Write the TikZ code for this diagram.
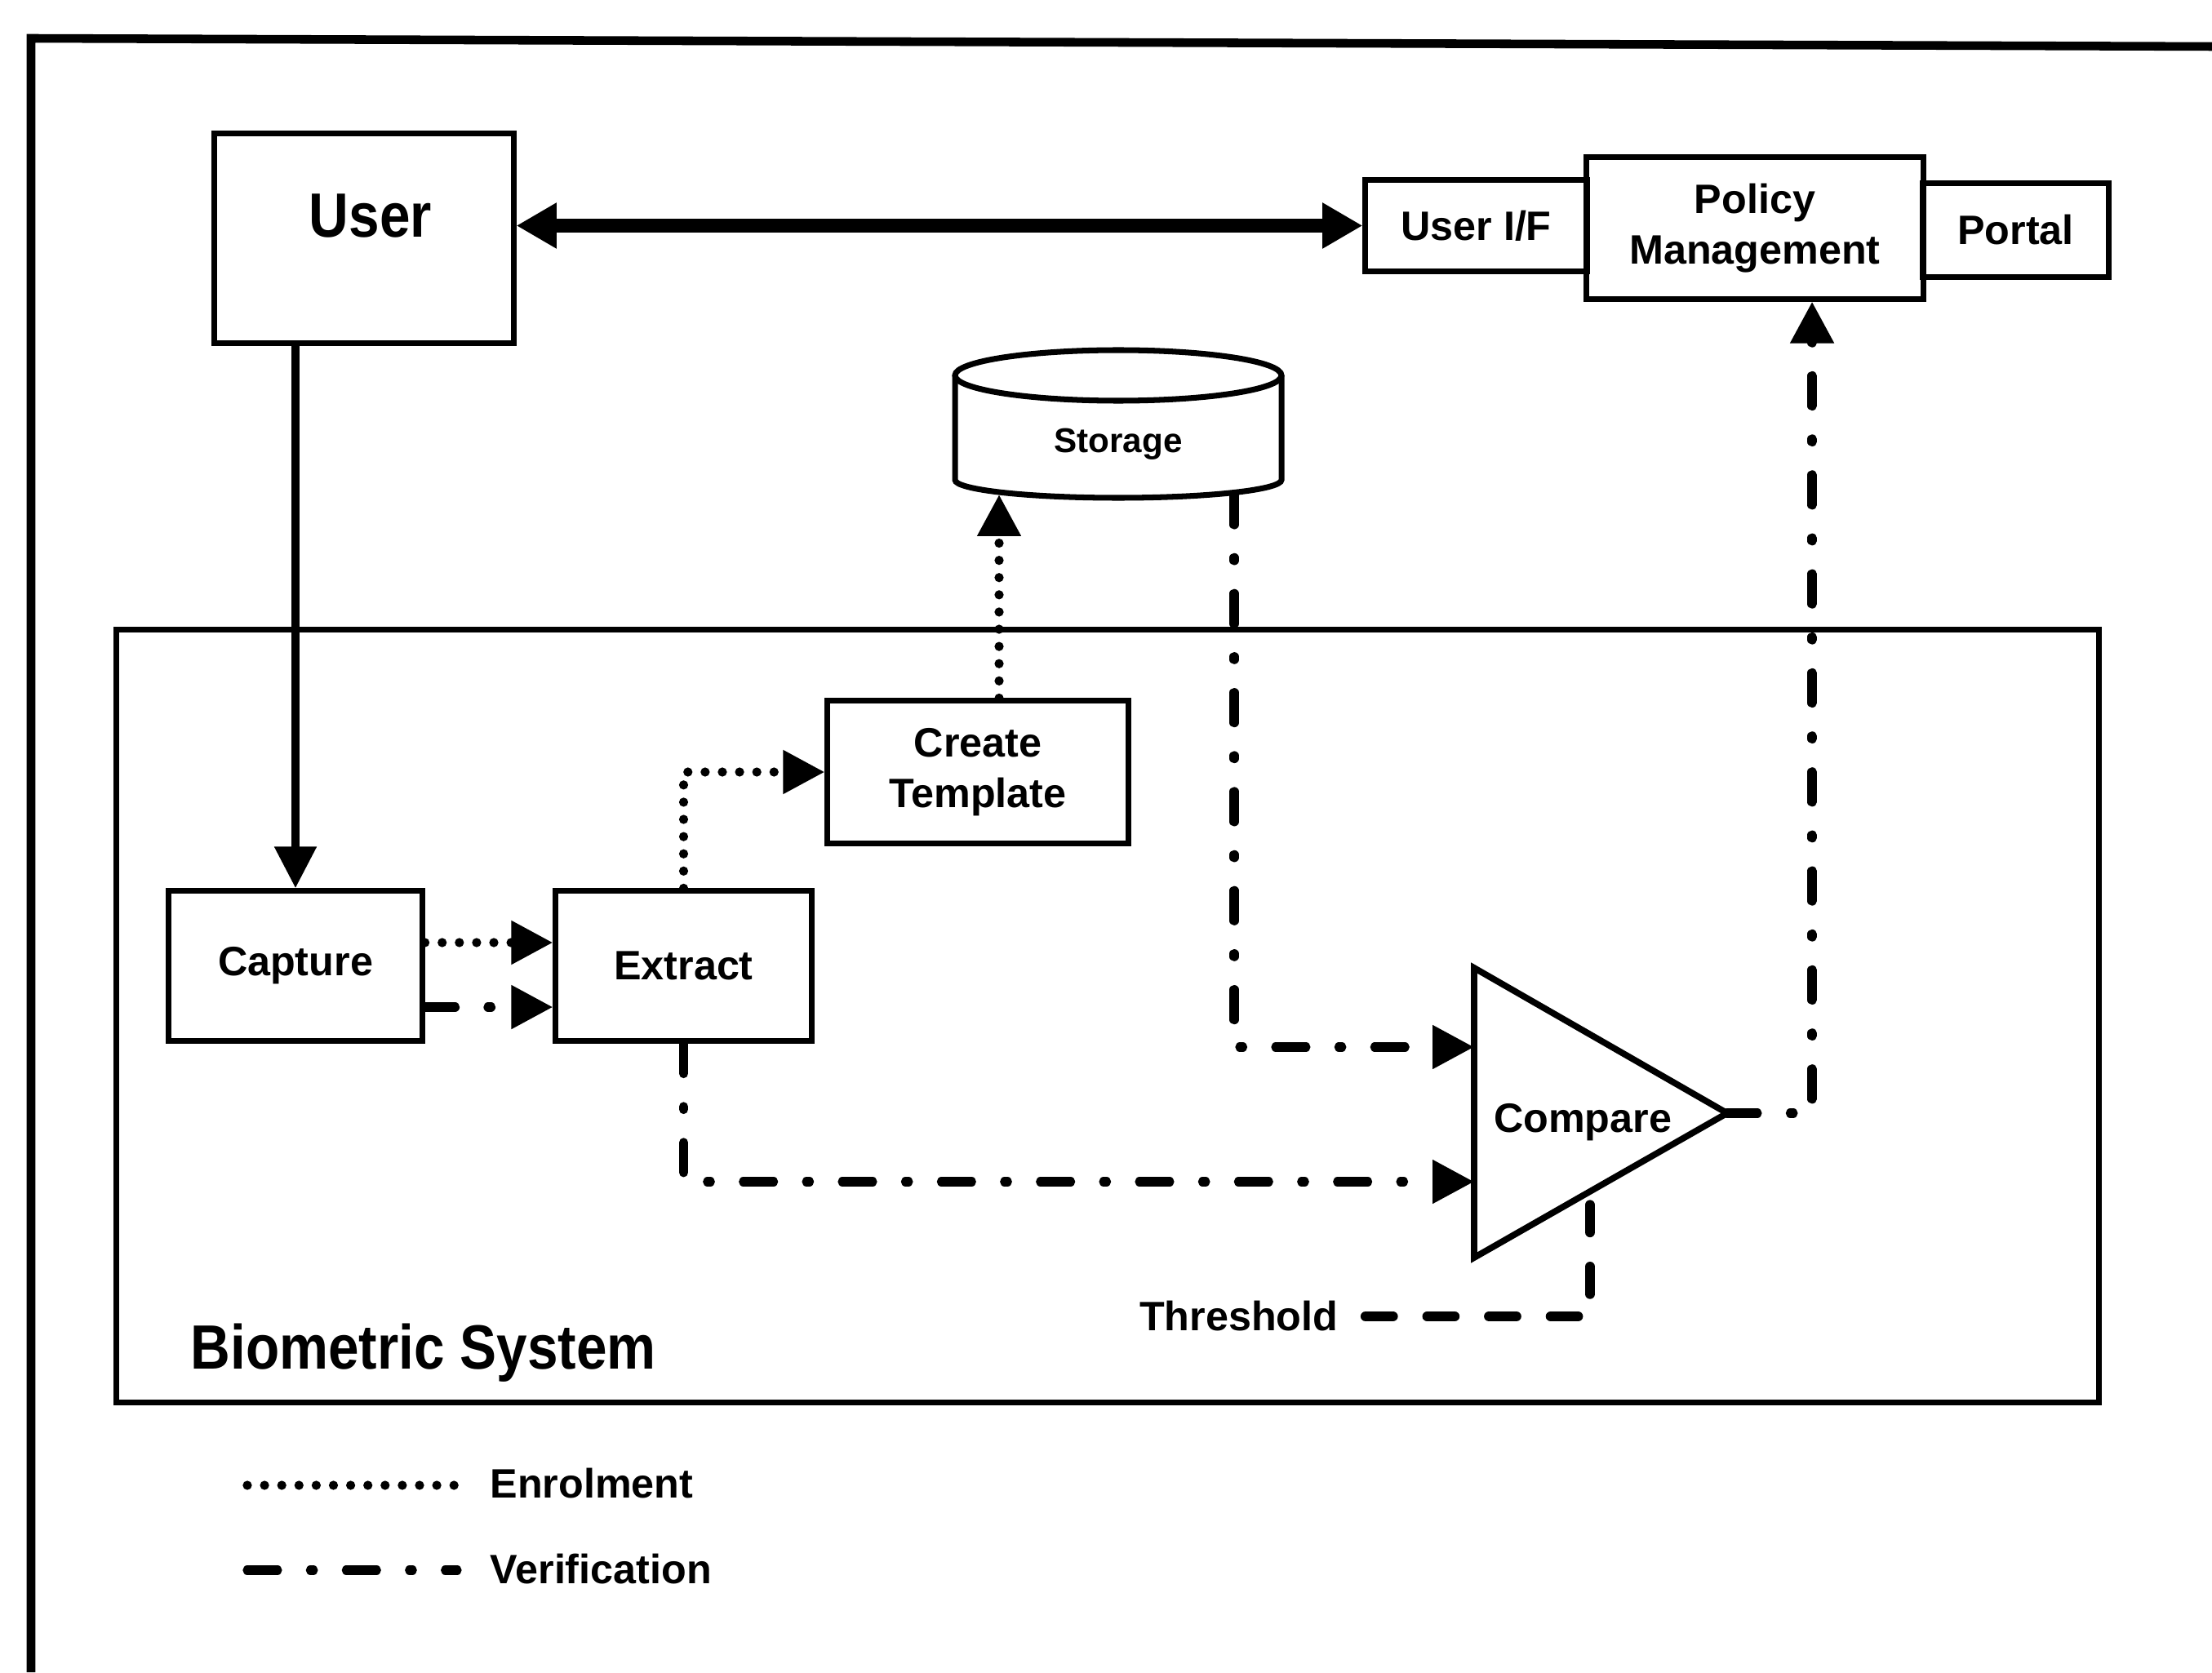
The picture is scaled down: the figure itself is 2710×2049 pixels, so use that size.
\documentclass[tikz,border=0pt]{standalone}
\usepackage{fontspec}
\setmainfont{Liberation Sans}
\newfontfamily\condfont[FakeStretch=0.88]{Liberation Sans}
\usetikzlibrary{arrows.meta,calc}
\begin{document}
\begin{tikzpicture}[x=0.01cm,y=-0.01cm,
  txt/.style={inner sep=0pt, font=\bfseries\fontsize{14.3pt}{17.5pt}\selectfont},
  bigtxt/.style={inner sep=0pt, font=\condfont\bfseries\fontsize{21.8pt}{26pt}\selectfont},
  box/.style={draw, line width=2pt, align=center, txt},
  enrol/.style={line width=3.2pt, dash pattern=on 0pt off 6pt, line cap=round},
  verif/.style={line width=3.2pt, dash pattern=on 10.5pt off 11.5pt on 1pt off 11.5pt, line cap=round},
  thresh/.style={line width=3.5pt, dash pattern=on 9.5pt off 12pt, line cap=round},
  tip/.style={-{Triangle[length=14.5pt,width=14.5pt]}},
]
\useasboundingbox (0,0) rectangle (2710,2049);
% outer frame (cut by the page at right and bottom)
\draw[line width=3pt] (38,2049) -- (38,47) -- (2710,57);

% top row
\node[box, minimum width=3.66cm, minimum height=2.56cm] (user) at (446,292) {};
\node[bigtxt] (usertext) at (454,265) {User};
\node[box, minimum width=2.71cm, minimum height=1.11cm] (useri) at (1808.5,276.5) {User I/F};
\node[box, minimum width=2.27cm, minimum height=1.14cm] (portal) at (2469.5,282) {Portal};
\node[box, minimum width=4.12cm, minimum height=1.73cm] (policy) at (2150,279.5) {Policy\\Management};

% biometric system frame
\node[draw, line width=2pt, inner sep=0pt, minimum width=24.28cm, minimum height=9.46cm] (bio) at (1357,1245) {};
\node[bigtxt, anchor=base west] (biolabel) at (233,1677) {Biometric System};

% storage cylinder
\draw[line width=2pt] (1170,460) -- (1170,588) arc[start angle=180, end angle=0, x radius=200, y radius=22] -- (1570,460);
\draw[line width=2pt] (1370,460) ellipse [x radius=200, y radius=31];
\node[inner sep=0pt, font=\bfseries\fontsize{12pt}{14pt}\selectfont] (storage) at (1370,544) {Storage};
\coordinate (stA) at (1224,606);
\coordinate (stB) at (1512,606);

% boxes inside
\node[box, minimum width=3.68cm, minimum height=1.74cm] (create) at (1198,946) {Create\\Template};
\node[box, minimum width=3.10cm, minimum height=1.83cm] (capture) at (362,1183.5) {Capture};
\node[box, minimum width=3.13cm, minimum height=1.83cm] (extract) at (837.5,1183.5) {Extract};

% compare triangle
\coordinate (cT) at (1806,1186);
\coordinate (cB) at (1806,1541);
\coordinate (cR) at (2116,1364);
\draw[line width=2.2pt, line join=miter] (cT) -- (cR) -- (cB) -- cycle;
\node[txt, anchor=base] (compare) at (1939,1387) {Compare};
\coordinate (in1) at (1806,1283);
\coordinate (in2) at (1806,1448);
\coordinate (thr) at (1948,1460);
\node[txt, anchor=east] (threshold) at (1640,1613) {Threshold};

% connectors
\draw[line width=5pt, {Triangle[length=14pt,width=15pt]}-{Triangle[length=14pt,width=15pt]}] (user.east |- useri.west) -- (useri.west);
\draw[line width=3pt, -{Triangle[length=14.5pt,width=14pt]}] (capture.north |- user.south) -- (capture.north);
\draw[enrol, tip] ([yshift=0.285cm]capture.east) -- ([yshift=0.285cm]extract.west);
\draw[verif, tip] ([yshift=-0.505cm]capture.east) -- ([yshift=-0.505cm]extract.west);
\draw[enrol, tip] (extract.north) |- (create.west);
\draw[enrol, tip] ([xshift=0.26cm]create.north) -- (stA);
\draw[verif, tip] (stB) |- (in1);
\draw[verif, tip] (extract.south) |- (in2);
\draw[verif, tip] (cR) -| ([xshift=0.70cm]policy.south);
\draw[thresh] ([xshift=0.33cm]threshold.east) -| (thr);

% legend
\coordinate (le1) at (303,1820);
\coordinate (le2) at (560,1820);
\coordinate (lv1) at (303,1924);
\coordinate (lv2) at (560,1924);
\draw[enrol] (le1) -- (le2);
\draw[verif] (lv1) -- (lv2);
\node[txt, anchor=west] (enroltext) at (600,1818) {Enrolment};
\node[txt, anchor=west] (veriftext) at (600,1923) {Verification};
\end{tikzpicture}
\end{document}
